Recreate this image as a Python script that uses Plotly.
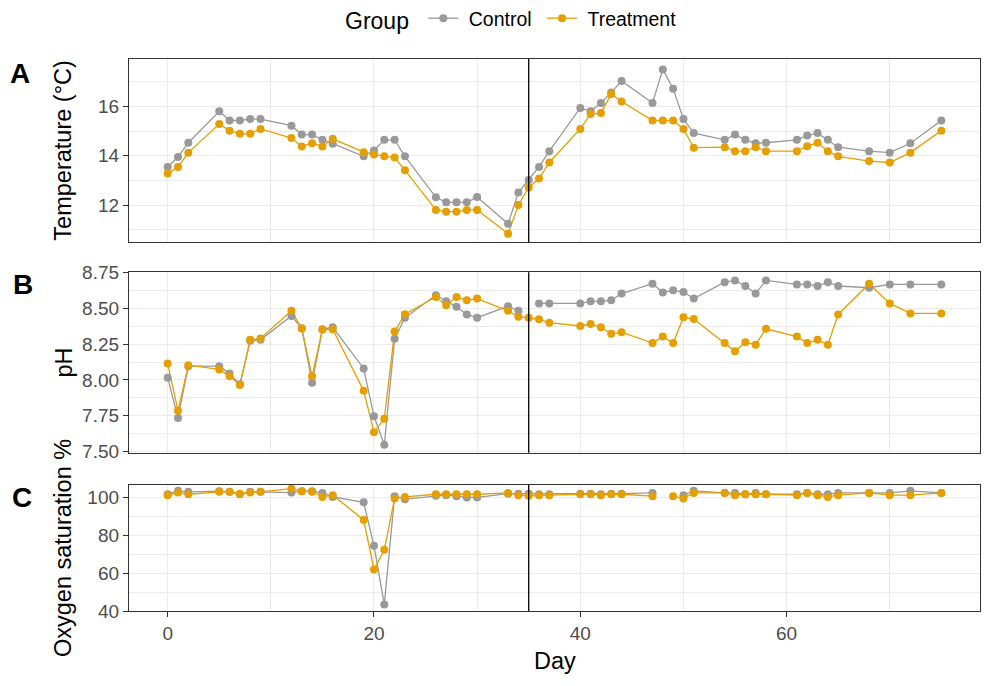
import plotly.graph_objects as go

# Sampling days (weekdays) over the experiment
days = [0, 1, 2, 5, 6, 7, 8, 9, 12, 13, 14, 15, 16, 19, 20, 21, 22, 23,
        26, 27, 28, 29, 30, 33, 34, 35, 36, 37, 40, 41, 42, 43, 44,
        47, 48, 49, 50, 51, 54, 55, 56, 57, 58, 61, 62, 63, 64, 65,
        68, 70, 72, 75]

# Water temperature (°C)
temp_control = [13.55, 13.95, 14.53, 15.80, 15.43, 15.43, 15.49, 15.49, 15.22, 14.86, 14.86, 14.65, 14.49,
                13.98, 14.22, 14.65, 14.65, 13.98, 12.32, 12.12, 12.12, 12.12, 12.33, 11.25, 12.52, 13.02,
                13.55, 14.19, 15.94, 15.80, 16.14, 16.56, 17.03, 16.14, 17.50, 16.72, 15.49, 14.92,
                14.65, 14.86, 14.65, 14.51, 14.53, 14.65, 14.82, 14.92, 14.65, 14.35, 14.19, 14.13, 14.51, 15.43]
temp_treatment = [13.28, 13.55, 14.13, 15.29, 15.02, 14.89, 14.89, 15.09, 14.72, 14.38, 14.51, 14.38, 14.69,
                  14.15, 14.05, 13.98, 13.93, 13.42, 11.81, 11.74, 11.74, 11.81, 11.81, 10.85, 12.01, 12.72,
                  13.08, 13.73, 15.09, 15.69, 15.73, 16.50, 16.20, 15.43, 15.43, 15.43, 15.09, 14.33,
                  14.35, 14.19, 14.19, 14.35, 14.19, 14.19, 14.39, 14.53, 14.19, 13.98, 13.79, 13.73, 14.13, 15.02]

# pH
ph_control = [8.015, 7.733, 8.096, 8.096, 8.045, 7.969, 8.273, 8.280, 8.447, 8.361, 7.980, 8.355, 8.368,
              8.080, 7.745, 7.546, 8.287, 8.435, 8.592, 8.550, 8.511, 8.458, 8.435, 8.516, 8.483, None,
              8.535, 8.535, 8.535, 8.550, 8.550, 8.557, 8.604, 8.673, 8.611, 8.627, 8.615, 8.569,
              8.684, 8.696, 8.657, 8.604, 8.696, 8.668, 8.668, 8.657, 8.684, 8.657, 8.645, 8.668, 8.668, 8.668]
ph_treatment = [8.114, 7.784, 8.103, 8.073, 8.026, 7.964, 8.280, 8.290, 8.483, 8.360, 8.026, 8.350, 8.355,
                7.923, 7.634, 7.727, 8.338, 8.460, 8.580, 8.523, 8.580, 8.557, 8.569, 8.483, 8.442, 8.435,
                8.424, 8.400, 8.377, 8.391, 8.368, 8.322, 8.334, 8.258, 8.303, 8.258, 8.438, 8.426,
                8.258, 8.200, 8.264, 8.246, 8.357, 8.303, 8.258, 8.280, 8.246, 8.458, 8.673, 8.535, 8.465, 8.465]

# Oxygen saturation (%)
o2_control = [101.9, 103.7, 103.2, 103.5, 103.2, 101.9, 103.2, 103.2, 102.8, 103.5, 103.5, 102.6, 100.5,
              97.6, 74.6, 43.5, 100.9, 99.3, 101.1, 101.4, 100.9, 100.2, 100.2, 102.2, 102.2, 102.2,
              101.9, 101.9, 102.2, 102.2, 101.9, 102.2, 102.2, 102.6, None, None, 101.4, 103.7,
              102.6, 102.6, 101.9, 102.6, 101.9, 101.9, 102.6, 101.9, 101.9, 102.6, 102.6, 102.6, 103.7, 102.6]
o2_treatment = [101.4, 102.8, 101.9, 103.2, 103.2, 102.2, 102.8, 103.2, 104.9, 103.5, 103.2, 100.5, 101.4,
                88.3, 62.0, 72.5, 99.7, 100.5, 101.9, 101.9, 101.9, 101.9, 101.9, 102.6, 101.4, 101.1,
                101.4, 101.4, 101.9, 101.9, 101.4, 101.9, 101.9, 100.9, None, 100.9, 99.7, 102.6,
                102.6, 101.4, 101.9, 101.9, 101.9, 101.4, 102.6, 101.4, 100.5, 101.4, 102.6, 101.4, 101.4, 102.6]

treatment_start_day = 35

groups = ["Control", "Treatment"]
group_colors = {"Control": "#999999", "Treatment": "#E69F00"}

panels = [
    # (x axis, y axis, series by group, y title, panel tag)
    ("x", "y", {"Control": temp_control, "Treatment": temp_treatment}, "Temperature (°C)", "A"),
    ("x2", "y2", {"Control": ph_control, "Treatment": ph_treatment}, "pH", "B"),
    ("x3", "y3", {"Control": o2_control, "Treatment": o2_treatment}, "Oxygen saturation %", "C"),
]

FONT = "Liberation Sans, Arial, sans-serif"
LINE_W = 1.3
MARKER_SIZE = 8
NBSP = "\u00a0"

fig = go.Figure()

for xa, ya, series, _, _ in panels:
    # lines first, then points on top (as geom_line + geom_point)
    for g in groups:
        fig.add_trace(go.Scatter(x=days, y=series[g], mode="lines", xaxis=xa, yaxis=ya,
                                 line=dict(color=group_colors[g], width=LINE_W),
                                 showlegend=False, hoverinfo="skip"))
    for g in groups:
        fig.add_trace(go.Scatter(x=days, y=series[g], mode="markers", xaxis=xa, yaxis=ya,
                                 marker=dict(color=group_colors[g], size=MARKER_SIZE),
                                 showlegend=False, name=g))

# legend keys (padded labels for key spacing)
for g in groups:
    fig.add_trace(go.Scatter(x=[None], y=[None], mode="lines+markers", name=NBSP + g + NBSP,
                             line=dict(color=group_colors[g], width=LINE_W),
                             marker=dict(color=group_colors[g], size=MARKER_SIZE)))

# panel layout in pixels
W, H = 984, 686
L, R, T, B = 129, 4, 59, 75
plot_h = H - T - B
plot_w = W - L - R


def py2paper(py):
    return (H - B - py) / plot_h


def px2paper(px):
    return (px - L) / plot_w


domains = [
    [py2paper(242.3), 1.0],
    [py2paper(452.7), py2paper(272.3)],
    [0.0, py2paper(485.0)],
]

y_ranges = [[10.5, 17.92], [7.49, 8.753], [40.0, 106.8]]
y_dticks = [2, 0.25, 20]
y_formats = ["", ".2f", ""]

axis_common = dict(
    showline=True, mirror=True, linecolor="#333333", linewidth=1.3,
    showgrid=True, gridcolor="#EBEBEB", gridwidth=1.3, zeroline=False,
    ticks="outside", ticklen=5, tickwidth=1.3, tickcolor="#333333",
    tickfont=dict(family=FONT, size=19, color="#4D4D4D"),
)

layout = dict(
    width=W, height=H,
    margin=dict(l=L, r=R, t=T, b=B, pad=0, autoexpand=False),
    plot_bgcolor="white", paper_bgcolor="white",
    font=dict(family=FONT, color="black"),
    showlegend=True,
    legend=dict(orientation="h", x=px2paper(343), xanchor="left",
                y=py2paper(19), yanchor="middle",
                title=dict(text="Group" + NBSP, font=dict(size=23, family=FONT, color="black"),
                           side="left"),
                font=dict(size=19.5, family=FONT, color="black"),
                bgcolor="rgba(0,0,0,0)", itemwidth=30, tracegroupgap=0),
)

for i, (xa, ya, _, ytitle, tag) in enumerate(panels):
    xkey = "xaxis" if i == 0 else f"xaxis{i + 1}"
    ykey = "yaxis" if i == 0 else f"yaxis{i + 1}"
    xaxis = dict(axis_common, range=[-3.75, 78.75], domain=[0, 1], anchor=ya,
                 tick0=0, dtick=20,
                 minor=dict(showgrid=True, gridcolor="#EBEBEB", gridwidth=0.7, tick0=0, dtick=10, ticks=""))
    if i < 2:
        xaxis.update(showticklabels=False, ticks="")
    if i > 0:
        xaxis["matches"] = "x"
    layout[xkey] = xaxis
    layout[ykey] = dict(axis_common, range=y_ranges[i], domain=domains[i], anchor=xa,
                        tick0=0, dtick=y_dticks[i], tickformat=y_formats[i],
                        minor=dict(showgrid=True, gridcolor="#EBEBEB", gridwidth=0.7,
                                   tick0=0, dtick=y_dticks[i] / 2, ticks=""))

fig.update_layout(**layout)

annotations = []
shapes = []
tag_pos = [(20, 73), (23, 284), (22, 497)]
for i, (xa, ya, _, ytitle, tag) in enumerate(panels):
    mid = (domains[i][0] + domains[i][1]) / 2
    annotations.append(dict(text=ytitle, xref="paper", yref="paper", x=px2paper(63), y=mid,
                            xanchor="center", yanchor="middle", textangle=-90, showarrow=False,
                            font=dict(family=FONT, size=23.5, color="black")))
    annotations.append(dict(text=f"<b>{tag}</b>", xref="paper", yref="paper",
                            x=px2paper(tag_pos[i][0]), y=py2paper(tag_pos[i][1]),
                            xanchor="center", yanchor="middle", showarrow=False,
                            font=dict(family=FONT, size=28, color="black")))
    shapes.append(dict(type="line", xref=xa, yref=f"{ya} domain",
                       x0=treatment_start_day, x1=treatment_start_day, y0=0, y1=1,
                       line=dict(color="black", width=1.3), layer="above"))

annotations.append(dict(text="Day", xref="paper", yref="paper", x=0.5, y=py2paper(661),
                        xanchor="center", yanchor="middle", showarrow=False,
                        font=dict(family=FONT, size=23.5, color="black")))

fig.update_layout(annotations=annotations, shapes=shapes)

fig.write_html("out.html")
